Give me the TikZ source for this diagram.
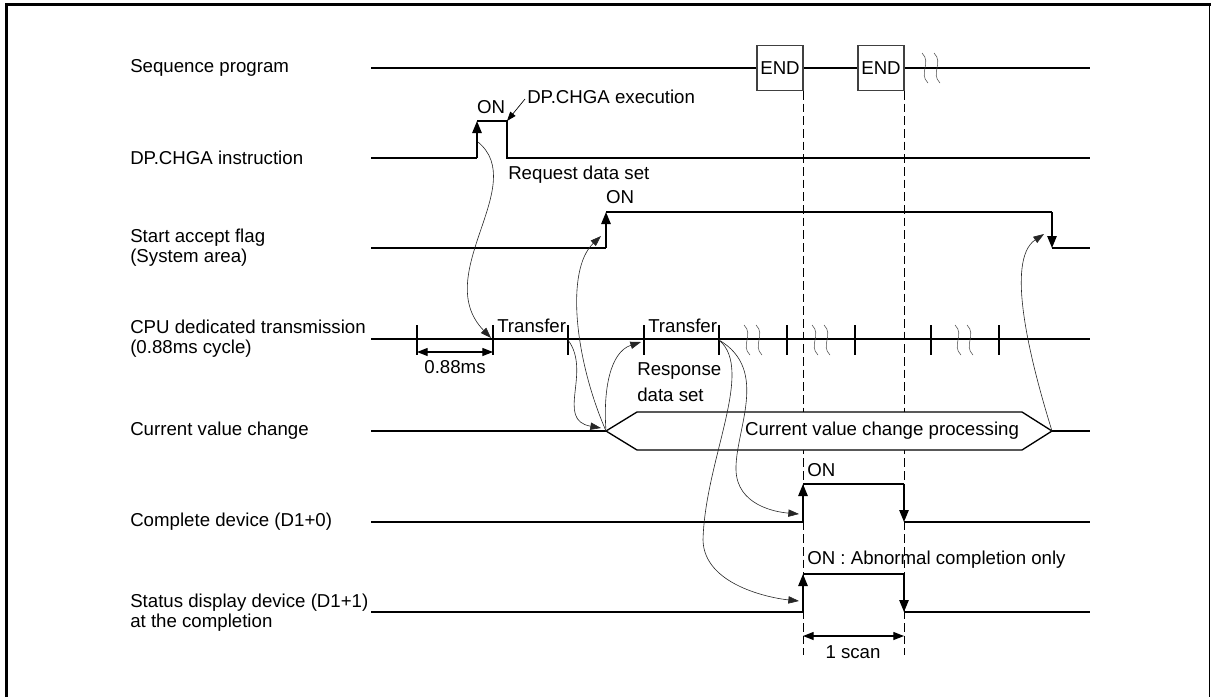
\documentclass[tikz,border=0pt]{standalone}
\usepackage{fontspec}
\setmainfont{Liberation Sans}
\usetikzlibrary{arrows.meta}
\begin{document}
\begin{tikzpicture}[x=0.75pt,y=-0.75pt,
  sig/.style={line width=1.3pt},
  edgearr/.style={line width=1.3pt,-{Triangle[width=7pt,length=9pt]}},
  crv/.style={line width=0.45pt,draw=black!85,-{Triangle[width=5.5pt,length=8pt]}},
  dimarr/.style={line width=0.9pt,{Triangle[width=6pt,length=8pt]}-{Triangle[width=6pt,length=8pt]}},
  lbl/.style={font=\fontsize{14}{15}\selectfont,inner sep=0pt,align=left},
  endbox/.style={draw=black!75,line width=0.8pt,minimum width=34.5pt,minimum height=34pt,inner sep=0pt,fill=white,font=\fontsize{14}{15}\selectfont},
  tick/.style={line width=1.3pt},
  dsh/.style={line width=0.6pt,dash pattern=on 6.5pt off 3pt},
  wv/.pic={\draw[line width=0.4pt,black!70] (-3,-15) .. controls (7,-5) and (-7,5) .. (3,15);
           \draw[line width=0.4pt,black!70] (9,-15) .. controls (19,-5) and (5,5) .. (15,15);}
]
\useasboundingbox (0,0) rectangle (1211,697);
% frame
\draw[line width=2.3pt] (6.5,697) -- (6.5,4.5) -- (1211,4.5);
\draw[line width=0.8pt] (1209.5,4.5) -- (1209.5,697);

% left labels
\node[lbl,anchor=west] (l1) at (130,68) {Sequence program};
\node[lbl,anchor=west] (l2) at (130,158) {DP.CHGA instruction};
\node[lbl,anchor=west] (l3) at (130,248) {Start accept flag\\(System area)};
\node[lbl,anchor=west] (l4) at (130,339) {CPU dedicated transmission\\(0.88ms cycle)};
\node[lbl,anchor=west] (l5) at (130,431) {Current value change};
\node[lbl,anchor=west] (l6) at (130,522) {Complete device (D1+0)};
\node[lbl,anchor=west] (l7) at (130,613) {Status display device (D1+1)\\at the completion};

% dashed scan lines
\draw[dsh] (803,91) -- (803,655);
\draw[dsh] (904,91) -- (904,655);

% sequence program
\draw[sig] (371,68) -- (1090,68);
\node[endbox] (end1) at (780,68) {END};
\node[endbox] (end2) at (881,68) {END};
\pic at (925,68) {wv};

% DP.CHGA instruction
\coordinate (dpA) at (477,158);
\coordinate (dpB) at (477,121);
\coordinate (dpC) at (507,121);
\draw[sig] (371,158) -- (dpA);
\draw[edgearr] (dpA) -- (dpB);
\draw[sig] (dpB) -- (dpC) -- (507,158) -- (1090,158);
\node[lbl] (on1) at (491,107) {ON};
\node[lbl,anchor=west] (exe) at (527,97) {DP.CHGA execution};
\coordinate (exeS) at (525,99);
\draw[line width=0.5pt,-{Triangle[width=5pt,length=7pt]}] (exeS) -- (dpC);
\node[lbl,anchor=west] (req) at (508,175) {Request data set};

% Start accept flag
\coordinate (saA) at (606,248);
\coordinate (saB) at (606,212);
\coordinate (saC) at (1052,212);
\coordinate (saD) at (1052,248);
\draw[sig] (371,248) -- (saA);
\draw[edgearr] (saA) -- (saB);
\draw[sig] (saB) -- (saC);
\draw[edgearr] (saC) -- (saD);
\draw[sig] (saD) -- (1090,248);
\node[lbl] (on2) at (620,197) {ON};

% CPU dedicated transmission
\draw[sig] (371,339) -- (1090,339);
\foreach \n/\x in {t1/417,t2/493,t3/568,t4/644,t5/719,t6/787,t7/855,t8/931,t9/999}{
  \draw[tick] (\x,325) -- (\x,355);
  \coordinate (\n) at (\x,340);
}
\pic at (747,340) {wv};
\pic at (815,340) {wv};
\pic at (958,340) {wv};
\node[lbl,anchor=west] (tr1) at (497,326) {Transfer};
\node[lbl,anchor=west] (tr2) at (648,326) {Transfer};
\coordinate (d1) at (417,352);
\coordinate (d2) at (493,352);
\draw[dimarr] (d1) -- (d2);
\node[lbl] (ms) at (455,367) {0.88ms};
\node[lbl,anchor=west,font=\fontsize{14}{20}\selectfont] (resp) at (637,382) {Response\\data set};

% Current value change
\coordinate (hexL) at (606,431);
\coordinate (hexR) at (1052,431);
\draw[sig] (371,431) -- (hexL);
\draw[sig] (hexR) -- (1090,431);
\draw[line width=1pt,fill=white] (hexL) -- (637,412) -- (1022,412) -- (hexR) -- (1022,450) -- (637,450) -- cycle;
\node[lbl] (cvp) at (882,431) {Current value change processing};

% Complete device
\coordinate (cdA) at (803,522);
\coordinate (cdB) at (803,484);
\coordinate (cdC) at (904,484);
\coordinate (cdD) at (904,522);
\draw[sig] (371,522) -- (cdA);
\draw[edgearr] (cdA) -- (cdB);
\draw[sig] (cdB) -- (cdC);
\draw[edgearr] (cdC) -- (cdD);
\draw[sig] (cdD) -- (1090,522);
\node[lbl,anchor=west] (on3) at (807,470) {ON};

% Status display device
\coordinate (sdA) at (803,612);
\coordinate (sdB) at (803,574);
\coordinate (sdC) at (904,574);
\coordinate (sdD) at (904,612);
\draw[sig] (371,612) -- (sdA);
\draw[edgearr] (sdA) -- (sdB);
\draw[sig] (sdB) -- (sdC);
\draw[edgearr] (sdC) -- (sdD);
\draw[sig] (sdD) -- (1090,612);
\node[lbl,anchor=west] (on4) at (807,560) {ON : Abnormal completion only};

% 1 scan
\coordinate (s1) at (803,636);
\coordinate (s2) at (904,636);
\draw[dimarr] (s1) -- (s2);
\node[lbl] (scan) at (853,652) {1 scan};

% causal curves
\coordinate (c1s) at (478,142);
\coordinate (c1e) at (491,338);
\draw[crv] (c1s) .. controls (530,185) and (430,275) .. (c1e);
\coordinate (c2e) at (601,236);
\draw[crv] (hexL) .. controls (575,360) and (565,270) .. (c2e);
\coordinate (c3e) at (601,428);
\draw[crv] (t3) .. controls (592,372) and (555,420) .. (c3e);
\coordinate (c4e) at (641,342);
\draw[crv] (hexL) .. controls (603,390) and (610,352) .. (c4e);
\coordinate (c5m) at (736,470);
\coordinate (c5e) at (799,514);
\draw[crv] (t5) .. controls (770,370) and (735,430) .. (c5m) .. controls (737,505) and (775,512) .. (c5e);
\coordinate (c6m) at (703,540);
\coordinate (c6e) at (799,601);
\draw[crv] (t5) .. controls (755,370) and (705,460) .. (c6m) .. controls (704,585) and (770,598) .. (c6e);
\coordinate (c7e) at (1044,234);
\draw[crv] (hexR) .. controls (1030,360) and (1005,260) .. (c7e);
\end{tikzpicture}
\end{document}
